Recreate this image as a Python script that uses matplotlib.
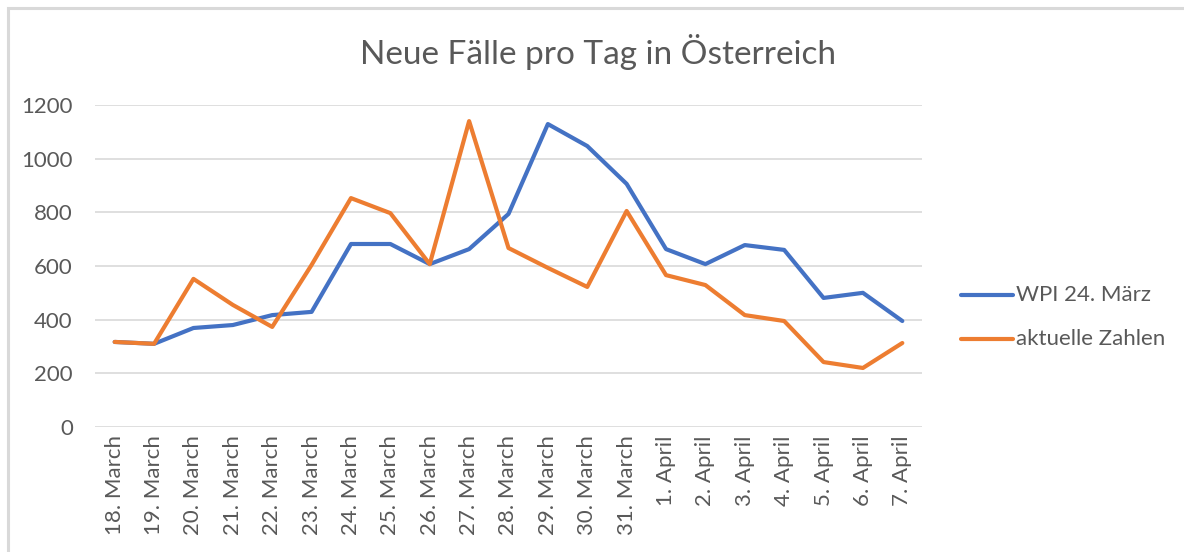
import matplotlib
matplotlib.use("Agg")
import matplotlib.pyplot as plt
from matplotlib.patches import Rectangle
from matplotlib.lines import Line2D

categories = ["18. March", "19. March", "20. March", "21. March", "22. March",
              "23. March", "24. March", "25. March", "26. March", "27. March",
              "28. March", "29. March", "30. March", "31. March", "1. April",
              "2. April", "3. April", "4. April", "5. April", "6. April", "7. April"]
wpi = [317, 310, 369, 380, 417, 429, 682, 682, 607, 663, 794, 1129, 1047, 906,
       663, 607, 678, 660, 481, 500, 395]
aktuell = [317, 310, 552, 455, 373, 604, 853, 797, 607, 1140, 667, 593, 522, 805,
           566, 529, 417, 395, 242, 220, 313]
yticks = [0, 200, 400, 600, 800, 1000, 1200]

plt.rcParams['font.family'] = ['Lato', 'DejaVu Sans']
W, H = 1184, 552
fig = plt.figure(figsize=(W/100, H/100), dpi=100)
fig.patches.append(Rectangle((8/W, -0.1), 1.2, 1 - 8/H + 0.1, transform=fig.transFigure,
                             fill=False, edgecolor="#d9d9d9", linewidth=2.2))

ax = fig.add_axes([95/W, 1 - 427/H, (922-95)/W, (427-105)/H])
x = list(range(len(categories)))
blue, orange = "#4472C4", "#ED7D31"
ax.plot(x, wpi, color=blue, lw=3.0, solid_joinstyle="round", solid_capstyle="round")
ax.plot(x, aktuell, color=orange, lw=3.0, solid_joinstyle="round", solid_capstyle="round")
ax.set_xlim(-0.5, len(categories) - 0.5)
ax.set_ylim(0, 1200)
ax.set_yticks(yticks)
ax.set_yticklabels([str(v) for v in yticks], fontsize=16, color="#595959")
ax.set_xticks(x)
ax.set_xticklabels(categories, rotation=90, fontsize=16, color="#595959")
ax.tick_params(length=0, pad=6)
ax.tick_params(axis='y', pad=16)
for s in ax.spines.values():
    s.set_visible(False)
ax.grid(axis='y', color="#d9d9d9", lw=1.2)
ax.set_axisbelow(True)

fig.text(598/W, 1 - 52/H, "Neue Fälle pro Tag in Österreich", ha="center", va="center",
         fontsize=24, color="#595959")

for yy, col, lab in [(295, blue, "WPI 24. März"), (339, orange, "aktuelle Zahlen")]:
    fig.lines.append(Line2D([961/W, 1013/W], [1 - yy/H, 1 - yy/H], transform=fig.transFigure,
                            color=col, lw=3.0, solid_capstyle="round"))
    fig.text(1016/W, 1 - yy/H, lab, ha="left", va="center", fontsize=16, color="#595959")

fig.savefig("out.png", dpi=100)
